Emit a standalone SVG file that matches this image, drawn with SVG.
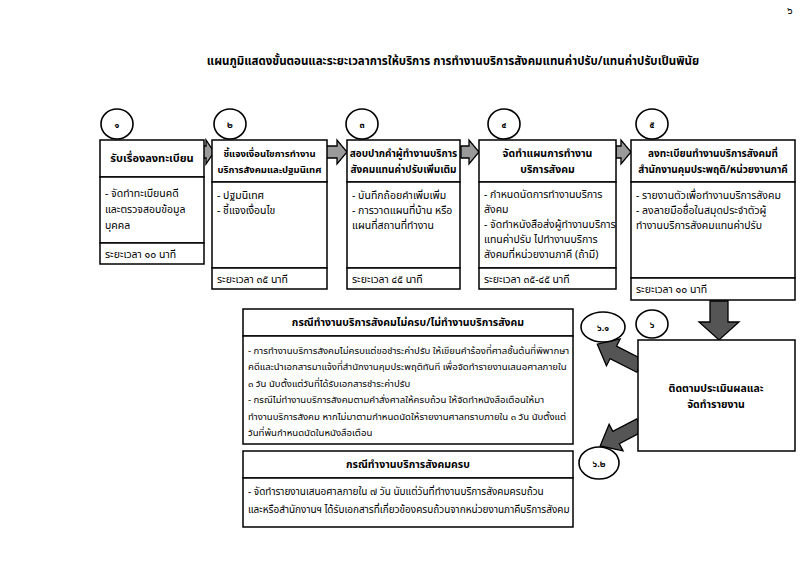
<svg xmlns="http://www.w3.org/2000/svg" width="800" height="561" viewBox="0 0 800 561">
<defs>
<style>
text{font-family:"Noto Sans Thai","Tahoma","Noto Sans","DejaVu Sans",sans-serif;fill:#000;}
.t{font-size:11.5px;font-weight:bold;}
.h{font-size:10px;font-weight:bold;}
.b{font-size:10.5px;}
.s{font-size:9.6px;}
.c{text-anchor:middle;}
.box{fill:#fff;stroke:#000;stroke-width:1.5;}
.circ{fill:#fff;stroke:#000;stroke-width:1.6;}
.n{font-size:9px;font-weight:bold;text-anchor:middle;}
.ar{fill:#9a9a9a;stroke:#000;stroke-width:1.3;}
.ard{fill:#555;stroke:#000;stroke-width:1.3;}
</style>
</defs>
<rect width="800" height="561" fill="#fff"/>
<text x="790" y="14" class="b c">๖</text>
<text x="453" y="65" class="t c">แผนภูมิแสดงขั้นตอนและระยะเวลาการให้บริการ การทำงานบริการสังคมแทนค่าปรับ/แทนค่าปรับเป็นพินัย</text>

<g id="connectors">
<polygon class="ar" points="200,146 206,146 206,140 214,152 206,164 206,158 200,158"/>
<polygon class="ar" points="326,146 337,146 337,140 347,152 337,164 337,158 326,158"/>
<polygon class="ar" points="461,146 469,146 469,140 479,152 469,164 469,158 461,158"/>
<polygon class="ar" points="616,146 621,146 621,140 631,152 621,164 621,158 616,158"/>
<polygon class="ard" points="710,301 728,301 728,322 739,322 719,340 699,322 710,322"/>
<polygon class="ard" transform="translate(640,366) rotate(207.1)" points="0,-7 30,-7 30,-15 48,0 30,15 30,7 0,7"/>
<polygon class="ard" transform="translate(640,425) rotate(152.3)" points="0,-7 27,-7 27,-15 45,0 27,15 27,7 0,7"/>
</g>

<g id="step1">
<rect class="box" x="100" y="140" width="104" height="37"/>
<rect class="box" x="100" y="177" width="104" height="66"/>
<rect class="box" x="100" y="243" width="104" height="21"/>
<ellipse class="circ" cx="117" cy="124" rx="16" ry="15"/>
<text x="117" y="128" class="n">๑</text>
<text x="152" y="162" class="h c" style="font-size:11px">รับเรื่องลงทะเบียน</text>
<text x="105" y="197" class="b">- จัดทำทะเบียนคดี</text>
<text x="105" y="213" class="b">และตรวจสอบข้อมูล</text>
<text x="105" y="229" class="b">บุคคล</text>
<text x="105" y="258" class="b">ระยะเวลา ๑๐ นาที</text>
</g>

<g id="step2">
<rect class="box" x="212" y="140" width="115" height="42"/>
<rect class="box" x="212" y="182" width="115" height="86"/>
<rect class="box" x="212" y="268" width="115" height="21"/>
<ellipse class="circ" cx="230" cy="124" rx="16" ry="15"/>
<text x="230" y="128" class="n">๒</text>
<text x="269.5" y="157" class="h c" style="font-size:9.5px">ชี้แจงเงื่อนไขการทำงาน</text>
<text x="269.5" y="173" class="h c" style="font-size:9.5px">บริการสังคมและปฐมนิเทศ</text>
<text x="217" y="199" class="b">- ปฐมนิเทศ</text>
<text x="217" y="214" class="b">- ชี้แจงเงื่อนไข</text>
<text x="217" y="283" class="b">ระยะเวลา ๓๕ นาที</text>
</g>

<g id="step3">
<rect class="box" x="347" y="140" width="113" height="42"/>
<rect class="box" x="347" y="182" width="113" height="86"/>
<rect class="box" x="347" y="268" width="113" height="21"/>
<ellipse class="circ" cx="362" cy="124" rx="16" ry="15"/>
<text x="362" y="128" class="n">๓</text>
<text x="403.5" y="157" class="h c">สอบปากคำผู้ทำงานบริการ</text>
<text x="403.5" y="173" class="h c">สังคมแทนค่าปรับเพิ่มเติม</text>
<text x="352" y="199" class="b">- บันทึกถ้อยคำเพิ่มเพิ่ม</text>
<text x="352" y="214" class="b">- การวาดแผนที่บ้าน หรือ</text>
<text x="352" y="229" class="b">แผนที่สถานที่ทำงาน</text>
<text x="352" y="283" class="b">ระยะเวลา ๔๕ นาที</text>
</g>

<g id="step4">
<rect class="box" x="479" y="140" width="137" height="42"/>
<rect class="box" x="479" y="182" width="137" height="86"/>
<rect class="box" x="479" y="268" width="137" height="21"/>
<ellipse class="circ" cx="504" cy="124" rx="16" ry="15"/>
<text x="504" y="128" class="n">๔</text>
<text x="547.5" y="157" class="h c" style="font-size:10.5px">จัดทำแผนการทำงาน</text>
<text x="547.5" y="173" class="h c" style="font-size:10.5px">บริการสังคม</text>
<text x="484" y="198" class="b">- กำหนดนัดการทำงานบริการ</text>
<text x="484" y="213" class="b">สังคม</text>
<text x="484" y="228" class="b">- จัดทำหนังสือส่งผู้ทำงานบริการ</text>
<text x="484" y="243" class="b">แทนค่าปรับ ไปทำงานบริการ</text>
<text x="484" y="258" class="b">สังคมที่หน่วยงานภาคี (ถ้ามี)</text>
<text x="484" y="283" class="b">ระยะเวลา ๓๕-๔๕ นาที</text>
</g>

<g id="step5">
<rect class="box" x="631" y="140" width="164" height="42"/>
<rect class="box" x="631" y="182" width="164" height="96"/>
<rect class="box" x="631" y="278" width="164" height="22"/>
<ellipse class="circ" cx="652" cy="124" rx="16" ry="15"/>
<text x="652" y="128" class="n">๕</text>
<text x="713" y="157" class="h c">ลงทะเบียนทำงานบริการสังคมที่</text>
<text x="713" y="173" class="h c">สำนักงานคุมประพฤติ/หน่วยงานภาคี</text>
<text x="636" y="199" class="b">- รายงานตัวเพื่อทำงานบริการสังคม</text>
<text x="636" y="214" class="b">- ลงลายมือชื่อในสมุดประจำตัวผู้</text>
<text x="636" y="229" class="b">ทำงานบริการสังคมแทนค่าปรับ</text>
<text x="636" y="293" class="b">ระยะเวลา ๑๐ นาที</text>
</g>

<g id="step6">
<rect class="box" x="638" y="340" width="157" height="111"/>
<ellipse class="circ" cx="652" cy="324" rx="16" ry="14"/>
<text x="652" y="328" class="n">๖</text>
<text x="716" y="392" class="h c" style="font-size:10.5px">ติดตามประเมินผลและ</text>
<text x="716" y="408" class="h c" style="font-size:10.5px">จัดทำรายงาน</text>
</g>

<g id="step6-1">
<rect class="box" x="243" y="309" width="330" height="27"/>
<rect class="box" x="243" y="336" width="330" height="108"/>
<ellipse class="circ" cx="603" cy="327" rx="22" ry="15"/>
<text x="603" y="331" class="n">๖.๑</text>
<text x="408" y="326" class="h c" style="font-size:10.5px">กรณีทำงานบริการสังคมไม่ครบ/ไม่ทำงานบริการสังคม</text>
<text x="248" y="354" class="s">- การทำงานบริการสังคมไม่ครบแต่ขอชำระค่าปรับ ให้เขียนคำร้องที่ศาลชั้นต้นที่พิพากษา</text>
<text x="248" y="370" class="s">คดีและนำเอกสารมาแจ้งที่สำนักงานคุมประพฤติทันที เพื่อจัดทำรายงานเสนอศาลภายใน</text>
<text x="248" y="387" class="s">๓ วัน นับตั้งแต่วันที่ได้รับเอกสารชำระค่าปรับ</text>
<text x="248" y="403" class="s">- กรณีไม่ทำงานบริการสังคมตามคำสั่งศาลให้ครบถ้วน ให้จัดทำหนังสือเตือนให้มา</text>
<text x="248" y="420" class="s">ทำงานบริการสังคม หากไม่มาตามกำหนดนัดให้รายงานศาลทราบภายใน ๓ วัน นับตั้งแต่</text>
<text x="248" y="436" class="s">วันที่พ้นกำหนดนัดในหนังสือเตือน</text>
</g>

<g id="step6-2">
<rect class="box" x="243" y="451" width="330" height="27"/>
<rect class="box" x="243" y="478" width="330" height="49"/>
<ellipse class="circ" cx="599" cy="463" rx="20" ry="16"/>
<text x="599" y="467" class="n">๖.๒</text>
<text x="408" y="468" class="h c" style="font-size:10.5px">กรณีทำงานบริการสังคมครบ</text>
<text x="248" y="495" class="s" style="font-size:10px">- จัดทำรายงานเสนอศาลภายใน ๗ วัน นับแต่วันที่ทำงานบริการสังคมครบถ้วน</text>
<text x="248" y="513" class="s" style="font-size:10px">และหรือสำนักงานฯ ได้รับเอกสารที่เกี่ยวข้องครบถ้วนจากหน่วยงานภาคีบริการสังคม</text>
</g>
</svg>
